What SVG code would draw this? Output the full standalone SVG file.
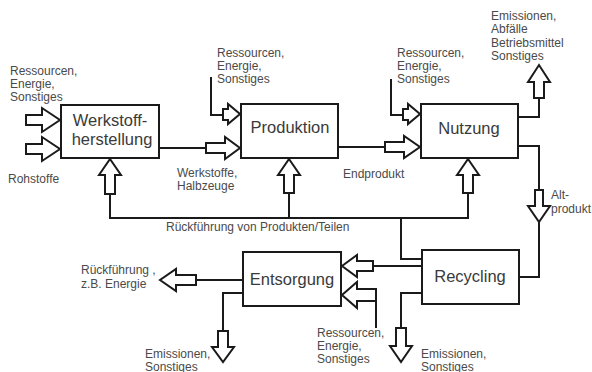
<svg xmlns="http://www.w3.org/2000/svg" width="592" height="372" viewBox="0 0 592 372">
<style>
.box{fill:#fff;stroke:#1a1a1a;stroke-width:2}
.ln{fill:none;stroke:#1a1a1a;stroke-width:2;stroke-linejoin:miter}
.arr{fill:#fff;stroke:#1a1a1a;stroke-width:2;stroke-linejoin:miter}
.lbl{font-family:"Liberation Sans",Arial,sans-serif;font-size:12px;fill:#4a4a4a}
.nt{font-family:"Liberation Sans",Arial,sans-serif;font-size:16.5px;fill:#3a3a3a;text-anchor:middle}
</style>
<rect width="592" height="372" fill="#fff"/>
<g id="connectors">
<!-- inputs to Werkstoffherstellung -->
<polygon class="arr" points="26,115 42,115 42,108 60,120 42,132 42,125 26,125"/>
<polygon class="arr" points="26,144 42,144 42,137 60,149 42,161 42,154 26,154"/>
<!-- Werkstoffe -> Produktion -->
<path class="ln" d="M159,148 H206"/>
<polygon class="arr" points="206,143 225,143 225,137 240,148 225,159 225,153 206,153"/>
<!-- Ressourcen -> Produktion -->
<path class="ln" d="M211,77 V115 H223"/>
<polygon class="arr" points="223,109 228,109 228,104 240,114 228,124 228,120 223,120"/>
<!-- Endprodukt -> Nutzung -->
<path class="ln" d="M338,147 H385"/>
<polygon class="arr" points="385,142 404,142 404,136 420,147 404,158 404,152 385,152"/>
<!-- Ressourcen -> Nutzung -->
<path class="ln" d="M391,79 V115 H403"/>
<polygon class="arr" points="403,109 408,109 408,104 420,114 408,124 408,120 403,120"/>
<!-- Feedback line -->
<path class="ln" d="M110,194 V218 H468 V193"/>
<path class="ln" d="M289,193 V218"/>
<path class="ln" d="M401,218 V259 H422"/>
<polygon class="arr" points="105,194 105,175 99,175 110,159 121,175 115,175 115,194"/>
<polygon class="arr" points="284,193 284,175 278,175 289,159 300,175 294,175 294,193"/>
<polygon class="arr" points="463,193 463,175 457,175 468,159 479,175 473,175 473,193"/>
<!-- Nutzung outputs -->
<path class="ln" d="M518,117 H539 V98"/>
<polygon class="arr" points="534,98 534,82 528,82 539,65 550,82 544,82 544,98"/>
<path class="ln" d="M518,146 H539 V190"/>
<polygon class="arr" points="535,190 535,206 528,206 539,222 550,206 543,206 543,190"/>
<path class="ln" d="M539,222 V277 H519"/>
<!-- Recycling -> Entsorgung -->
<path class="ln" d="M422,266 H373"/>
<polygon class="arr" points="373,261 357,261 357,255 342,266 357,277 357,271 373,271"/>
<!-- Ressourcen -> Entsorgung -->
<polygon class="arr" points="376,289 357,289 357,282 342,295 357,308 357,301 376,301"/>
<path class="ln" d="M376,289 V328"/>
<!-- Recycling emissions -->
<path class="ln" d="M422,293 H401 V328"/>
<polygon class="arr" points="396,328 396,346 390,346 401,362 412,346 406,346 406,328"/>
<!-- Entsorgung outputs -->
<path class="ln" d="M243,280 H196"/>
<polygon class="arr" points="196,275 176,275 176,269 160,280 176,291 176,285 196,285"/>
<path class="ln" d="M243,293 H223 V331"/>
<polygon class="arr" points="218,331 218,347 212,347 223,362 234,347 228,347 228,331"/>
</g>
<g id="werkstoffherstellung">
<rect class="box" x="61" y="105" width="98" height="53"/>
<text class="nt" x="110" y="126">Werkstoff-</text>
<text class="nt" x="112" y="145">herstellung</text>
</g>
<g id="produktion">
<rect class="box" x="241" y="104" width="97" height="54"/>
<text class="nt" x="290" y="133">Produktion</text>
</g>
<g id="nutzung">
<rect class="box" x="421" y="104" width="97" height="54"/>
<text class="nt" x="469" y="134">Nutzung</text>
</g>
<g id="recycling">
<rect class="box" x="422" y="250" width="97" height="54"/>
<text class="nt" x="470" y="282">Recycling</text>
</g>
<g id="entsorgung">
<rect class="box" x="243" y="252" width="98" height="54"/>
<text class="nt" x="292" y="285">Entsorgung</text>
</g>
<g id="labels">
<text class="lbl" x="10" y="75">Ressourcen,</text>
<text class="lbl" x="10" y="88">Energie,</text>
<text class="lbl" x="10" y="101">Sonstiges</text>
<text class="lbl" x="8" y="183">Rohstoffe</text>
<text class="lbl" x="177" y="177">Werkstoffe,</text>
<text class="lbl" x="177" y="190">Halbzeuge</text>
<text class="lbl" x="217" y="57">Ressourcen,</text>
<text class="lbl" x="217" y="70">Energie,</text>
<text class="lbl" x="217" y="83">Sonstiges</text>
<text class="lbl" x="343" y="178">Endprodukt</text>
<text class="lbl" x="397" y="57">Ressourcen,</text>
<text class="lbl" x="397" y="70">Energie,</text>
<text class="lbl" x="397" y="83">Sonstiges</text>
<text class="lbl" x="491" y="20">Emissionen,</text>
<text class="lbl" x="491" y="33">Abfälle</text>
<text class="lbl" x="491" y="47">Betriebsmittel</text>
<text class="lbl" x="491" y="60">Sonstiges</text>
<text class="lbl" x="551" y="199">Alt-</text>
<text class="lbl" x="551" y="213">produkt</text>
<text class="lbl" x="166" y="231">Rückführung von Produkten/Teilen</text>
<text class="lbl" x="81" y="274">Rückführung ,</text>
<text class="lbl" x="81" y="288">z.B. Energie</text>
<text class="lbl" x="145" y="358">Emissionen,</text>
<text class="lbl" x="145" y="371">Sonstiges</text>
<text class="lbl" x="317" y="337">Ressourcen,</text>
<text class="lbl" x="317" y="350">Energie,</text>
<text class="lbl" x="317" y="363">Sonstiges</text>
<text class="lbl" x="421" y="358">Emissionen,</text>
<text class="lbl" x="421" y="371">Sonstiges</text>
</g>
</svg>
